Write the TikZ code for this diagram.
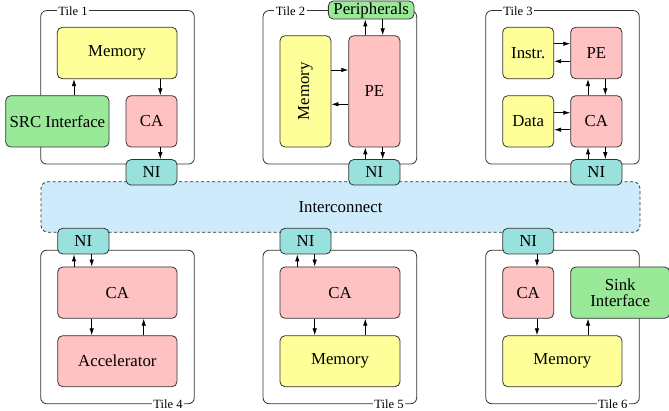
\documentclass[tikz,border=0pt]{standalone}
\usepackage{fontspec}
\setmainfont{Liberation Serif}
\usetikzlibrary{arrows.meta}
\definecolor{cyel}{HTML}{FFFF99}
\definecolor{cpink}{HTML}{FFC2C2}
\definecolor{cgreen}{HTML}{99E999}
\definecolor{cteal}{HTML}{99E1DD}
\definecolor{cblue}{HTML}{CDEBFA}
\definecolor{cline}{HTML}{333333}
\begin{document}
\begin{tikzpicture}[x=1pt,y=-1pt,
  font=\fontsize{16.8}{19}\selectfont,
  blk/.style={draw=cline,line width=0.8pt,rounded corners=5pt,inner sep=0pt,align=center},
  tilebox/.style={draw=cline,line width=0.8pt,rounded corners=6pt,inner sep=0pt,minimum width=153.6pt,minimum height=153.5pt},
  tlabel/.style={fill=white,inner sep=1.5pt,font=\fontsize{12.6}{14}\selectfont},
  arr/.style={-{Latex[length=7pt,width=4.5pt]},line width=0.8pt,draw=black},
  ym/.style={blk,fill=cyel},
  pm/.style={blk,fill=cpink},
  gm/.style={blk,fill=cgreen},
  nim/.style={blk,fill=cteal,minimum width=51pt,minimum height=25.5pt}]
\useasboundingbox (0,0) rectangle (669,411);

% interconnect
\node[draw=cline,dash pattern=on 3pt off 2.5pt,line width=0.8pt,rounded corners=7pt,fill=cblue,minimum width=599pt,minimum height=50.6pt,inner sep=0pt] (ic) at (340.5,207) {Interconnect};

% tile boxes
\node[tilebox] (t1) at (117.5,87.35) {};
\node[tilebox] (t2) at (339.85,87.35) {};
\node[tilebox] (t3) at (562.5,87.35) {};
\node[tilebox] (t4) at (117.5,327) {};
\node[tilebox] (t5) at (339.85,327) {};
\node[tilebox] (t6) at (562.5,327) {};
\node[tlabel] (l1) at (73,11) {Tile 1};
\node[tlabel] (l2) at (290.5,11) {Tile 2};
\node[tlabel] (l3) at (518,11) {Tile 3};
\node[tlabel] (l4) at (168,404) {Tile 4};
\node[tlabel] (l5) at (389,404) {Tile 5};
\node[tlabel] (l6) at (612.7,404) {Tile 6};

% Tile 1
\node[ym,minimum width=119.7pt,minimum height=51.4pt] (mem1) at (117.15,53) {Memory};
\node[gm,minimum width=103.3pt,minimum height=51.3pt] (src) at (57.35,121.35) {SRC Interface};
\node[pm,minimum width=51pt,minimum height=51.3pt] (ca1) at (151.5,121.35) {CA};
\node[nim] (ni1) at (151.5,172.35) {NI};
\coordinate (xa) at (74,0);
\coordinate (xb) at (160.3,0);
\draw[arr] (src.north -| xa) -- (mem1.south -| xa);
\draw[arr] (mem1.south -| xb) -- (ca1.north -| xb);
\draw[arr] (ca1.south -| xb) -- (ni1.north -| xb);

% Tile 2
\node[gm,minimum width=85.7pt,minimum height=18pt] (per) at (371.2,10) {Peripherals};
\node[ym,minimum width=111.3pt,minimum height=51pt,rotate=90] (mem2) at (305.5,91.35) {Memory};
\node[pm,minimum width=51.3pt,minimum height=111.3pt] (pe2) at (374.35,91.35) {PE};
\node[nim,minimum width=51.3pt] (ni2) at (374.35,172.35) {NI};
\coordinate (xc) at (365.3,0);
\coordinate (xd) at (382.7,0);
\coordinate (ya) at (0,70);
\coordinate (yb) at (0,104.3);
\draw[arr] (pe2.north -| xc) -- (per.south -| xc);
\draw[arr] (per.south -| xd) -- (pe2.north -| xd);
\draw[arr] (mem2.south |- ya) -- (pe2.west |- ya);
\draw[arr] (pe2.west |- yb) -- (mem2.south |- yb);
\draw[arr] (ni2.north -| xc) -- (pe2.south -| xc);
\draw[arr] (pe2.south -| xd) -- (ni2.north -| xd);

% Tile 3
\node[ym,minimum width=51pt,minimum height=51.4pt] (ins) at (528.2,53) {Instr.};
\node[pm,minimum width=51.3pt,minimum height=51.4pt] (pe3) at (596.35,53) {PE};
\node[ym,minimum width=51pt,minimum height=51.3pt] (dat) at (528.2,121.35) {Data};
\node[pm,minimum width=51.3pt,minimum height=51.3pt] (ca3) at (596.35,121.35) {CA};
\node[nim,minimum width=51.3pt] (ni3) at (596.35,172.35) {NI};
\coordinate (xe) at (588,0);
\coordinate (xf) at (605.3,0);
\coordinate (yc) at (0,43.7);
\coordinate (yd) at (0,61.3);
\coordinate (ye) at (0,112.7);
\coordinate (yf) at (0,129.7);
\draw[arr] (ins.east |- yc) -- (pe3.west |- yc);
\draw[arr] (pe3.west |- yd) -- (ins.east |- yd);
\draw[arr] (dat.east |- ye) -- (ca3.west |- ye);
\draw[arr] (ca3.west |- yf) -- (dat.east |- yf);
\draw[arr] (ca3.north -| xe) -- (pe3.south -| xe);
\draw[arr] (pe3.south -| xf) -- (ca3.north -| xf);
\draw[arr] (ni3.north -| xe) -- (ca3.south -| xe);
\draw[arr] (ca3.south -| xf) -- (ni3.north -| xf);

% Tile 4
\node[nim,minimum width=51.3pt,minimum height=25.7pt] (ni4) at (83.35,241.15) {NI};
\node[pm,minimum width=119.3pt,minimum height=51.3pt] (ca4) at (117.35,292.65) {CA};
\node[pm,minimum width=119.3pt,minimum height=51pt] (acc) at (117.35,361.2) {Accelerator};
\coordinate (xg) at (74,0);
\coordinate (xh) at (91.7,0);
\coordinate (xi) at (143.7,0);
\draw[arr] (ca4.north -| xg) -- (ni4.south -| xg);
\draw[arr] (ni4.south -| xh) -- (ca4.north -| xh);
\draw[arr] (ca4.south -| xh) -- (acc.north -| xh);
\draw[arr] (acc.north -| xi) -- (ca4.south -| xi);

% Tile 5
\node[nim,minimum height=25.7pt] (ni5) at (305.5,241.15) {NI};
\node[pm,minimum width=120pt,minimum height=51.3pt] (ca5) at (340,292.65) {CA};
\node[ym,minimum width=120pt,minimum height=51pt] (mem5) at (340,361.2) {Memory};
\coordinate (xj) at (297.3,0);
\coordinate (xk) at (314.7,0);
\coordinate (xl) at (365.3,0);
\draw[arr] (ca5.north -| xj) -- (ni5.south -| xj);
\draw[arr] (ni5.south -| xk) -- (ca5.north -| xk);
\draw[arr] (ca5.south -| xk) -- (mem5.north -| xk);
\draw[arr] (mem5.north -| xl) -- (ca5.south -| xl);

% Tile 6
\node[nim,minimum height=25.7pt] (ni6) at (528.2,241.15) {NI};
\node[pm,minimum width=51pt,minimum height=51.3pt] (ca6) at (528.2,292.65) {CA};
\node[gm,minimum width=99pt,minimum height=51.3pt] (sink) at (620.2,292.65) {Sink\\[-3pt]Interface};
\node[ym,minimum width=119.3pt,minimum height=51pt] (mem6) at (562.35,361.2) {Memory};
\coordinate (xm) at (537,0);
\coordinate (xn) at (588,0);
\draw[arr] (ni6.south -| xm) -- (ca6.north -| xm);
\draw[arr] (ca6.south -| xm) -- (mem6.north -| xm);
\draw[arr] (mem6.north -| xn) -- (sink.south -| xn);
\end{tikzpicture}
\end{document}
